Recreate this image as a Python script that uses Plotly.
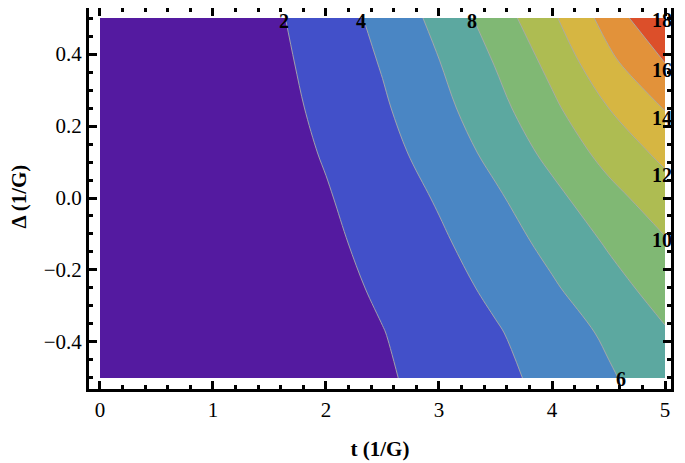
import plotly.graph_objects as go

# Grid
t_vals = [0, 0.5, 1, 1.5, 2, 2.5, 3, 3.5, 4, 4.5, 5]
delta_vals = [-0.5, -0.375, -0.25, -0.125, 0, 0.125, 0.25, 0.375, 0.5]

z_m0500 = [0, 0.07, 0.29, 0.64, 1.14, 1.78, 2.57, 3.49, 4.56, 5.77, 7.13]
z_m0375 = [0, 0.08, 0.31, 0.70, 1.25, 1.95, 2.81, 3.82, 4.99, 6.32, 7.83]
z_m0250 = [0, 0.09, 0.36, 0.81, 1.44, 2.25, 3.24, 4.41, 5.76, 7.29, 8.80]
z_m0125 = [0, 0.10, 0.41, 0.92, 1.64, 2.56, 3.69, 5.02, 6.56, 8.20, 9.80]
z_p0000 = [0, 0.12, 0.47, 1.05, 1.86, 2.91, 4.19, 5.70, 7.44, 9.35, 11.10]
z_p0125 = [0, 0.13, 0.54, 1.20, 2.14, 3.34, 4.82, 6.55, 8.56, 10.70, 12.50]
z_p0250 = [0, 0.15, 0.60, 1.35, 2.40, 3.75, 5.40, 7.35, 9.60, 12.00, 14.10]
z_p0375 = [0, 0.17, 0.66, 1.49, 2.64, 4.13, 5.94, 8.09, 10.56, 13.50, 16.00]
z_p0500 = [0, 0.18, 0.73, 1.64, 2.92, 4.56, 6.57, 8.94, 11.68, 14.78, 18.10]

z = [z_m0500, z_m0375, z_m0250, z_m0125, z_p0000,
     z_p0125, z_p0250, z_p0375, z_p0500]

band_colors = ["#541aa0", "#4250c9", "#4a86c4", "#5ca8a0", "#80b874",
               "#aebc52", "#d6b642", "#e2923a", "#dc4f2a", "#d23a22"]
colorscale = [[i / 9, c] for i, c in enumerate(band_colors)]

FONT = "Liberation Serif"

fig = go.Figure()
fig.add_trace(
    go.Contour(
        x=t_vals,
        y=delta_vals,
        z=z,
        autocontour=False,
        contours=dict(start=2, end=18, size=2, coloring="fill", showlabels=False),
        colorscale=colorscale,
        line=dict(color="rgba(170,170,170,0.9)", width=1, smoothing=1),
        showscale=False,
        hoverinfo="skip",
    )
)

# contour labels where the lines leave the plot (as in the reference)
labels = [
    ("2", 1.63, 0.492), ("4", 2.31, 0.492), ("8", 3.29, 0.492),
    ("18", 4.97, 0.494), ("16", 4.97, 0.356), ("14", 4.97, 0.222),
    ("12", 4.97, 0.064), ("10", 4.97, -0.117), ("6", 4.61, -0.503),
]
for txt, lx, ly in labels:
    fig.add_annotation(
        x=lx, y=ly, text="<b>%s</b>" % txt, showarrow=False,
        font=dict(family=FONT, size=20, color="black"),
        xanchor="center", yanchor="middle",
    )

# y axis title, placed by hand further left than plotly's default
fig.add_annotation(
    xref="paper", yref="paper", x=-0.121, y=0.504,
    text="<b>Δ (1/G)</b>", textangle=-90, showarrow=False,
    font=dict(family=FONT, size=21, color="black"),
    xanchor="center", yanchor="middle",
)

axis_common = dict(
    showline=True, linewidth=3, linecolor="black", mirror="allticks",
    ticks="inside", ticklen=8, tickwidth=2.5, tickcolor="black",
    showgrid=False, zeroline=False, automargin=False,
    tickfont=dict(family=FONT, size=21, color="black"),
)

fig.update_xaxes(
    range=[-0.097, 5.053], tick0=0, dtick=1,
    minor=dict(dtick=0.2, tick0=0, ticks="inside", ticklen=4, tickwidth=2.5,
               tickcolor="black", showgrid=False),
    title=dict(text="<b>t (1/G)</b>", font=dict(family=FONT, size=21, color="black"),
               standoff=21),
    **axis_common,
)
fig.update_yaxes(
    range=[-0.5306, 0.5278], tick0=0, dtick=0.2, tickformat=".1f",
    minor=dict(dtick=0.05, tick0=0, ticks="inside", ticklen=4, tickwidth=2.5,
               tickcolor="black", showgrid=False),
    **axis_common,
)

# page body has an 8px margin, so the figure is sized/offset to compensate
fig.update_layout(
    width=677,
    height=455,
    margin=dict(l=81, r=14, t=0, b=74),
    plot_bgcolor="white",
    paper_bgcolor="white",
    showlegend=False,
)

fig.write_html("out.html")
